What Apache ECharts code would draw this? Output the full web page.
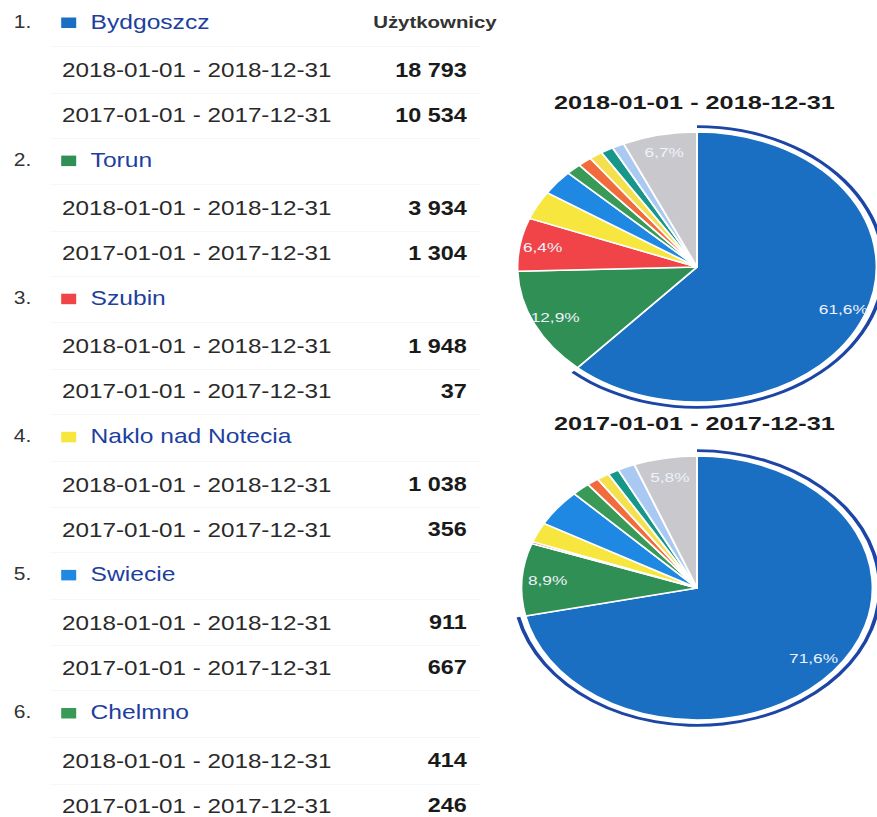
<!DOCTYPE html>
<html>
<head>
<meta charset="utf-8">
<script src="https://cdn.jsdelivr.net/npm/echarts@6/dist/echarts.min.js"></script>
<style>
  html, body { margin: 0; padding: 0; background: #ffffff; }
  #wrap { position: relative; width: 877px; height: 817px; overflow: hidden; background: #ffffff; }
  #table { position: absolute; left: 0; top: 0; width: 877px; height: 817px; }
  #pies { position: absolute; left: 0; top: 0; width: 877px; height: 817px;
          transform-origin: 697px 0; transform: scaleX(1.33); }
</style>
</head>
<body>
<div id="wrap">
  <div id="table"></div>
  <div id="pies"></div>
</div>
<script>
// ---------------- data ----------------
const cities = ['Bydgoszcz', 'Torun', 'Szubin', 'Naklo nad Notecia', 'Swiecie', 'Chelmno'];
const users2018 = [18793, 3934, 1948, 1038, 911, 414];
const users2017 = [10534, 1304, 37, 356, 667, 246];
const cityColors = ['#1a6fc2', '#2f8f55', '#f04448', '#f6e63e', '#1e88e2', '#399a58'];
// remaining pie slices (not listed in the table)
const otherNames = ['Miasto 7', 'Miasto 8', 'Miasto 9', 'Miasto 10', 'Pozostałe'];
const other2018 = [385, 365, 350, 330, 2044];
const other2017 = [160, 170, 150, 235, 853];
const otherColors = ['#f26b3c', '#f4e04c', '#16978a', '#a9c9f2', '#c9c9cd'];
const periods = ['2018-01-01 - 2018-12-31', '2017-01-01 - 2017-12-31'];
const metricName = 'Użytkownicy';

// ---------------- helpers ----------------
const FONT = '"Liberation Sans", Arial, sans-serif';
function fmt(v) { return String(v).replace(/\B(?=(\d{3})+(?!\d))/g, ' '); }

// ---------------- table (left) ----------------
const tableChart = echarts.init(document.getElementById('table'), null, { renderer: 'svg' });
const rowStep = 138.1, firstY = 22, off1 = 48.5, off2 = 93.5;
const children = [];
const rowYs = [];
cities.forEach((c, k) => {
  const cy = firstY + k * rowStep;
  rowYs.push(cy, cy + off1, cy + off2);
  children.push({ type: 'text', x: 11.5, y: cy, style: { text: (k + 1) + '.', fontSize: 17.5, fontFamily: FONT, fill: '#333', align: 'left', verticalAlign: 'middle' } });
  children.push({ type: 'rect', shape: { x: 51, y: cy - 4.5, width: 12.5, height: 10.5 }, style: { fill: cityColors[k] } });
  children.push({ type: 'text', x: 75.5, y: cy, style: { text: c, fontSize: 20.5, fontFamily: FONT, fill: '#1d3f9e', align: 'left', verticalAlign: 'middle' } });
  [users2018[k], users2017[k]].forEach((v, j) => {
    const y = cy + (j === 0 ? off1 : off2);
    children.push({ type: 'text', x: 51.7, y: y, style: { text: periods[j], fontSize: 20.2, fontFamily: FONT, fill: '#2a2a2a', align: 'left', verticalAlign: 'middle' } });
    children.push({ type: 'text', x: 389, y: y, style: { text: fmt(v), fontSize: 19.5, fontWeight: 'bold', fontFamily: FONT, fill: '#1a1a1a', align: 'right', verticalAlign: 'middle' } });
  });
});
for (let i = 0; i < rowYs.length - 1; i++) {
  const y = Math.round((rowYs[i] + rowYs[i + 1]) / 2) + 0.5;
  children.unshift({ type: 'line', shape: { x1: 42, y1: y, x2: 400, y2: y }, style: { stroke: '#f7f7f7', lineWidth: 1 } });
}
children.push({ type: 'text', x: 311, y: firstY, style: { text: metricName, fontSize: 17, fontWeight: 'bold', fontFamily: FONT, fill: '#333', align: 'left', verticalAlign: 'middle' } });

tableChart.setOption({
  animation: false,
  graphic: [{ type: 'group', x: 0, y: 0, scaleX: 1.2, originX: 0, originY: 0, silent: true, children: children }]
});

// ---------------- pies (right) ----------------
const pieChart = echarts.init(document.getElementById('pies'), null, { renderer: 'svg' });
const names = cities.concat(otherNames);
const colors = cityColors.concat(otherColors);
const pieDefs = [
  { values: users2018.concat(other2018), cy: 267, r: 135, titleY: 103, lab: 0.7 },
  { values: users2017.concat(other2017), cy: 588, r: 132, titleY: 424, lab: 0.66 }
];
const series = [];
const titles = [];
pieDefs.forEach((p, i) => {
  const data = p.values.map((v, j) => ({ name: names[j], value: v }));
  series.push({
    type: 'pie', center: [697, p.cy], radius: p.r, startAngle: 90, clockwise: true,
    silent: true, avoidLabelOverlap: false,
    label: { show: false }, labelLine: { show: false },
    itemStyle: { borderColor: '#ffffff', borderWidth: 1.5 },
    data: data.map((d, j) => Object.assign({}, d, { itemStyle: { color: colors[j] } }))
  });
  // highlight ring around the largest slice
  series.push({
    type: 'pie', center: [697, p.cy], radius: [p.r + 4, p.r + 6.8], startAngle: 90, clockwise: true,
    silent: true, label: { show: false }, labelLine: { show: false },
    itemStyle: { borderWidth: 0 },
    data: data.map((d, j) => Object.assign({}, d, { itemStyle: { color: j === 0 ? '#1c45a6' : 'rgba(0,0,0,0)' } }))
  });
  // percentage labels
  series.push({
    type: 'pie', center: [697, p.cy], radius: [p.r * p.lab, p.r], startAngle: 90, clockwise: true,
    silent: true, avoidLabelOverlap: false, labelLine: { show: false },
    itemStyle: { color: 'rgba(0,0,0,0)', borderWidth: 0 },
    label: {
      show: true, position: 'inside', fontSize: 13, fontFamily: FONT, color: '#eef2fb',
      formatter: (prm) => prm.percent >= 5 ? prm.percent.toFixed(1).replace('.', ',') + '%' : ''
    },
    data: data
  });
  titles.push({ type: 'text', x: 695, y: p.titleY, style: { text: periods[i], fontSize: 19, fontWeight: 'bold', fontFamily: FONT, fill: '#1a1a1a', align: 'center', verticalAlign: 'middle' } });
});

pieChart.setOption({
  animation: false,
  graphic: titles,
  series: series
});
</script>
</body>
</html>
